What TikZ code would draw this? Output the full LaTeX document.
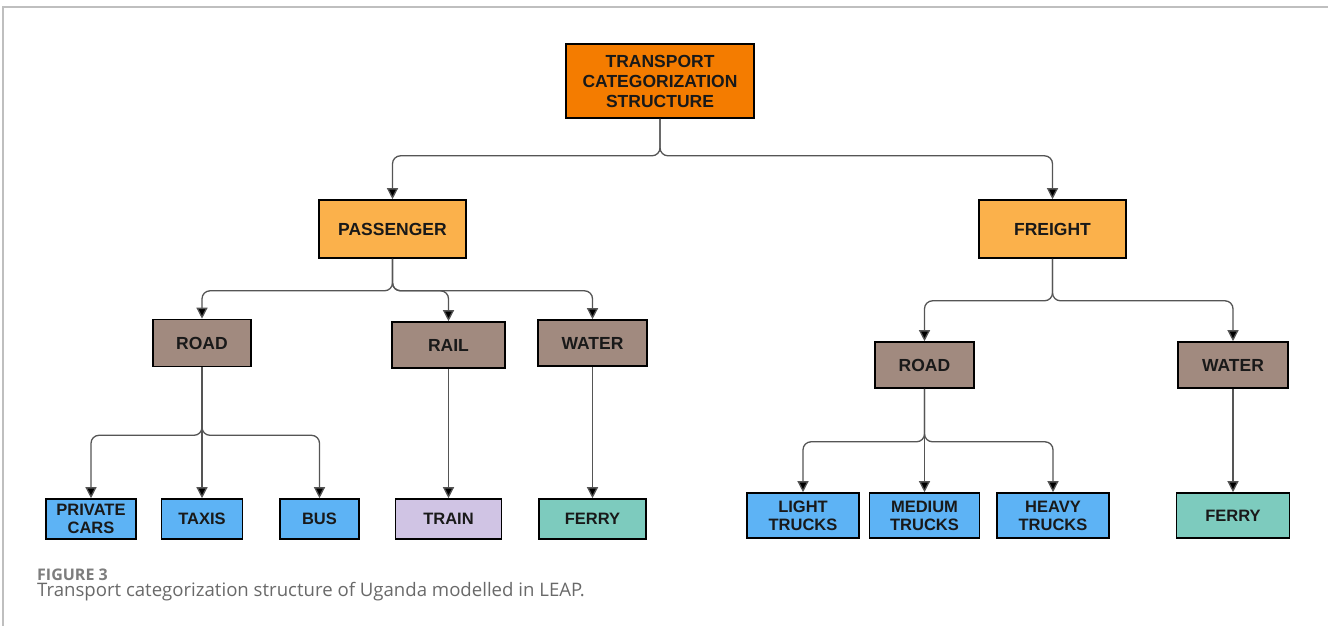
\documentclass[tikz,border=0pt]{standalone}
\usepackage{fontspec}
\setmainfont{Liberation Sans}
\newfontfamily\capfont{Open Sans}
\usetikzlibrary{arrows.meta}
\definecolor{toporange}{RGB}{244,124,0}
\definecolor{lightorange}{RGB}{251,177,75}
\definecolor{brownbox}{RGB}{161,138,127}
\definecolor{bluebox}{RGB}{93,179,245}
\definecolor{lavbox}{RGB}{208,196,228}
\definecolor{tealbox}{RGB}{125,203,190}
\definecolor{conncol}{RGB}{85,85,85}
\definecolor{captext}{RGB}{105,105,105}
\definecolor{figtext}{RGB}{125,125,125}
\tikzset{
  box/.style={draw=black, line width=1.6pt, align=center, inner sep=0pt,
    font=\bfseries\fontsize{17.5}{20}\selectfont, text=black!90},
  leaf/.style={box, font=\bfseries\fontsize{16.5}{18}\selectfont},
  conn/.style={draw=conncol, line width=1.3pt, rounded corners=8pt,
    -{Triangle[width=11pt,length=11pt,fill=black]}},
}
\begin{document}
\begin{tikzpicture}[x=1pt,y=-1pt]
\useasboundingbox (0,0) rectangle (1328,626);
\draw[black!25, line width=1.2pt] (3,626) -- (3,7) -- (1328,7);

\node[box, fill=toporange, minimum width=188pt, minimum height=74pt] (top) at (660,81)
  {TRANSPORT\\CATEGORIZATION\\STRUCTURE};
\node[box, fill=lightorange, minimum width=147pt, minimum height=58pt] (pass) at (392.5,229) {PASSENGER};
\node[box, fill=lightorange, minimum width=147pt, minimum height=58pt] (frei) at (1052.5,229) {FREIGHT};

\node[box, fill=brownbox, minimum width=98pt, minimum height=47pt] (proad) at (202,343) {ROAD};
\node[box, fill=brownbox, minimum width=113pt, minimum height=46pt] (prail) at (448.5,345) {RAIL};
\node[box, fill=brownbox, minimum width=109pt, minimum height=46pt] (pwater) at (592.5,343) {WATER};

\node[box, fill=brownbox, minimum width=99pt, minimum height=46pt] (froad) at (924.5,365) {ROAD};
\node[box, fill=brownbox, minimum width=110pt, minimum height=46pt] (fwater) at (1233,365) {WATER};

\node[leaf, fill=bluebox, minimum width=90pt, minimum height=40pt] (pcars) at (91,519) {PRIVATE\\CARS};
\node[leaf, fill=bluebox, minimum width=81pt, minimum height=40pt] (taxis) at (202,519) {TAXIS};
\node[leaf, fill=bluebox, minimum width=79pt, minimum height=40pt] (bus) at (319.5,519) {BUS};
\node[leaf, fill=lavbox, minimum width=106pt, minimum height=40pt] (train) at (448.5,519) {TRAIN};
\node[leaf, fill=tealbox, minimum width=107pt, minimum height=40pt] (pferry) at (592.5,519) {FERRY};

\node[leaf, fill=bluebox, minimum width=112pt, minimum height=45pt] (light) at (803,515.5) {LIGHT\\TRUCKS};
\node[leaf, fill=bluebox, minimum width=110pt, minimum height=45pt] (medium) at (924.5,515.5) {MEDIUM\\TRUCKS};
\node[leaf, fill=bluebox, minimum width=112pt, minimum height=45pt] (heavy) at (1053,515.5) {HEAVY\\TRUCKS};
\node[leaf, fill=tealbox, minimum width=113pt, minimum height=45pt] (fferry) at (1233,515.5) {FERRY};

% top level
\draw[conn] (top.south) -- ++(0,37) -| (pass.north);
\draw[conn] (top.south) -- ++(0,37) -| (frei.north);
% passenger
\draw[conn] (pass.south) -- ++(0,32) -| (proad.north);
\draw[conn] (pass.south) -- ++(0,32) -| (prail.north);
\draw[conn] (pass.south) -- ++(0,32) -| (pwater.north);
% freight
\draw[conn] (frei.south) -- ++(0,42) -| (froad.north);
\draw[conn] (frei.south) -- ++(0,42) -| (fwater.north);
% passenger road
\draw[conn] (proad.south) -- ++(0,68) -| (pcars.north);
\draw[conn] (proad.south) -- (taxis.north);
\draw[conn] (proad.south) -- ++(0,68) -| (bus.north);
\draw[conn] (prail.south) -- (train.north);
\draw[conn] (pwater.south) -- (pferry.north);
% freight road
\draw[conn] (froad.south) -- ++(0,53) -| (light.north);
\draw[conn] (froad.south) -- (medium.north);
\draw[conn] (froad.south) -- ++(0,53) -| (heavy.north);
\draw[conn] (fwater.south) -- (fferry.north);

\node[anchor=base west, inner sep=0pt, text=figtext, font=\capfont\bfseries\fontsize{16}{18}\selectfont] (fig) at (37,580) {FIGURE 3};
\node[anchor=base west, inner sep=0pt, text=captext, font=\capfont\fontsize{18.6}{22}\selectfont] (cap) at (37,596) {Transport categorization structure of Uganda modelled in LEAP.};
\end{tikzpicture}
\end{document}
